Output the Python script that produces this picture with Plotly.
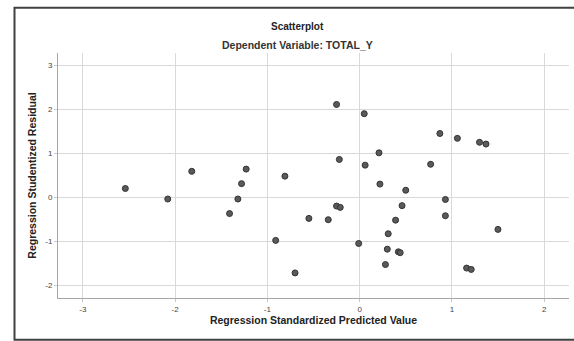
import plotly.graph_objects as go

# Regression standardized predicted value (x) and studentized residual (y)
pred_x = [-2.54, -2.08, -1.82, -1.23, -1.28, -1.32, -1.41, -0.81, -0.55, -0.91,
          -0.70, -0.25, 0.05, 0.87, 1.06, 1.30, 1.37, 0.21, -0.22, 0.06,
          0.77, 0.22, 0.50, 0.93, -0.25, -0.21, 0.46, -0.34, 0.39, 0.93,
          1.50, 0.31, -0.01, 0.30, 0.42, 0.44, 0.28, 1.16, 1.21]
resid_y = [0.20, -0.04, 0.59, 0.64, 0.31, -0.04, -0.37, 0.48, -0.48, -0.98,
           -1.72, 2.11, 1.90, 1.45, 1.34, 1.25, 1.21, 1.01, 0.86, 0.73,
           0.75, 0.30, 0.16, -0.05, -0.20, -0.23, -0.19, -0.51, -0.52, -0.42,
           -0.73, -0.83, -1.05, -1.18, -1.24, -1.26, -1.53, -1.61, -1.64]

x_ticks = [-3, -2, -1, 0, 1, 2]
x_tick_text = ["-3", "-2", "-1", "0", "1", "2"]
y_ticks = [-2, -1, 0, 1, 2, 3]
y_tick_text = ["-2", "-1", "0", "1", "2", "3"]

fig = go.Figure()
fig.add_trace(go.Scatter(
    x=pred_x, y=resid_y, mode="markers",
    marker=dict(size=6, color="#5a5a5a", line=dict(color="#333333", width=1)),
    showlegend=False, hoverinfo="x+y",
))

font_family = "Liberation Sans, Arial, sans-serif"
axis_common = dict(
    showgrid=True, gridcolor="#d9d9d9", gridwidth=1,
    zeroline=False, showline=True, linecolor="#a6a6a6", linewidth=1,
    ticks="outside", ticklen=3, tickcolor="#c8c8c8",
    tickfont=dict(size=8, color="#444444", family=font_family),
    automargin=False,
)

fig.update_layout(
    width=574, height=341,
    margin=dict(l=58, r=5, t=53, b=43),
    paper_bgcolor="white", plot_bgcolor="white",
    font=dict(family=font_family),
    xaxis=dict(range=[-3.27, 2.27], tickvals=x_ticks, ticktext=x_tick_text, **axis_common,
               title=dict(text="<b>Regression Standardized Predicted Value</b>",
                          font=dict(size=10.5, color="#222222"), standoff=1)),
    yaxis=dict(range=[-2.29, 3.28], tickvals=y_ticks, ticktext=y_tick_text, **axis_common,
               title=dict(text="<b>Regression Studentized Residual</b>",
                          font=dict(size=10.5, color="#222222"), standoff=6)),
    annotations=[
        dict(text="<b>Scatterplot</b>", xref="paper", yref="paper",
             x=(297 - 58) / 511, y=(297.7 - 26.5) / 245, showarrow=False,
             xanchor="center", yanchor="middle",
             font=dict(size=10, color="#222222", family=font_family)),
        dict(text="<b>Dependent Variable: TOTAL_Y</b>", xref="paper", yref="paper",
             x=(297 - 58) / 511, y=(297.7 - 45) / 245, showarrow=False,
             xanchor="center", yanchor="middle",
             font=dict(size=10.5, color="#333333", family=font_family)),
    ],
    shapes=[
        dict(type="rect", xref="paper", yref="paper",
             x0=(14.5 - 58) / 511, x1=1.05,
             y0=(297.7 - 339.5) / 245, y1=(297.7 - 7.5) / 245,
             line=dict(color="#404040", width=2), fillcolor="rgba(0,0,0,0)",
             layer="above"),
    ],
)

fig.write_html("out.html",
               config={"displayModeBar": False},
               post_script="document.body.style.margin='0';document.body.style.padding='0';")
